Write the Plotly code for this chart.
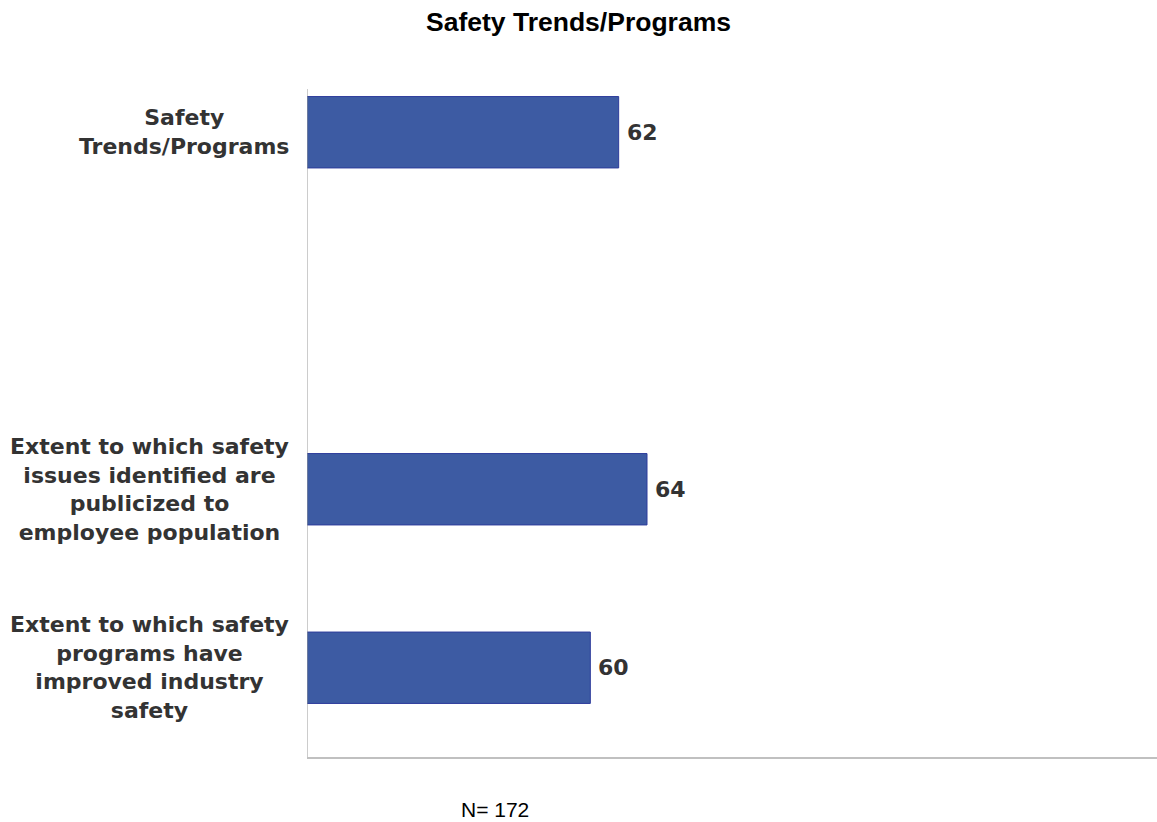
import plotly.graph_objects as go

# Data
categories = [
    "Safety<br>Trends/Programs",
    "Extent to which safety<br>issues identified are<br>publicized to<br>employee population",
    "Extent to which safety<br>programs have<br>improved industry<br>safety",
]
values = [62, 64, 60]
blank = " "
# order on the axis, bottom to top
category_order = [categories[2], categories[1], blank, categories[0]]

title_text = "Safety Trends/Programs"
note_text = "N= 172"

bar_color = "#3d5ba3"
bar_line = "#2e3c9c"
text_color = "#333333"

fig = go.Figure()
fig.add_trace(go.Bar(
    x=values,
    y=categories,
    orientation="h",
    width=0.4,
    marker=dict(color=bar_color, line=dict(color=bar_line, width=1)),
    hoverinfo="skip",
))

annotations = []
for cat, val in zip(categories, values):
    # value label
    annotations.append(dict(
        x=val, y=cat, xref="x", yref="y", text=f"<b>{val}</b>",
        showarrow=False, xanchor="left", xshift=6,
        font=dict(family="DejaVu Sans", size=22, color=text_color),
    ))
    # category label
    annotations.append(dict(
        x=0, y=cat, xref="paper", yref="y", text=f"<b>{cat}</b>",
        showarrow=False, xanchor="right", align="center", xshift=-16,
        font=dict(family="DejaVu Sans", size=22, color=text_color),
    ))

annotations.append(dict(
    x=(495 - 307) / 850, y=-(809 - 757) / 714, xref="paper", yref="paper",
    text=note_text, showarrow=False, xanchor="center", yanchor="middle",
    font=dict(family="Liberation Sans Narrow, Liberation Sans, Arial, sans-serif", size=21, color="#000000"),
))

fig.update_layout(
    width=1157, height=822,
    margin=dict(l=307, r=0, t=43, b=65),
    paper_bgcolor="white", plot_bgcolor="white",
    showlegend=False,
    title=dict(
        text=f"<b>{title_text}</b>", x=0.5, xanchor="center", y=1 - 22 / 822, yanchor="middle",
        font=dict(family="Liberation Sans, Arial, sans-serif", size=26.5, color="#000000"),
    ),
    xaxis=dict(range=[40, 100], showgrid=False, zeroline=False, showticklabels=False,
               ticks="", showline=True, linecolor="#c0c0c0", linewidth=2),
    yaxis=dict(type="category", categoryorder="array", categoryarray=category_order,
               range=[-0.5, 3.5], showgrid=False, zeroline=False, showticklabels=False,
               ticks="", showline=False),
    annotations=annotations,
    shapes=[dict(type="line", xref="x", yref="paper", x0=40, x1=40,
                 y0=0, y1=(757 - 89) / 714, line=dict(color="#999999", width=1))],
)

fig.write_html("out.html")
